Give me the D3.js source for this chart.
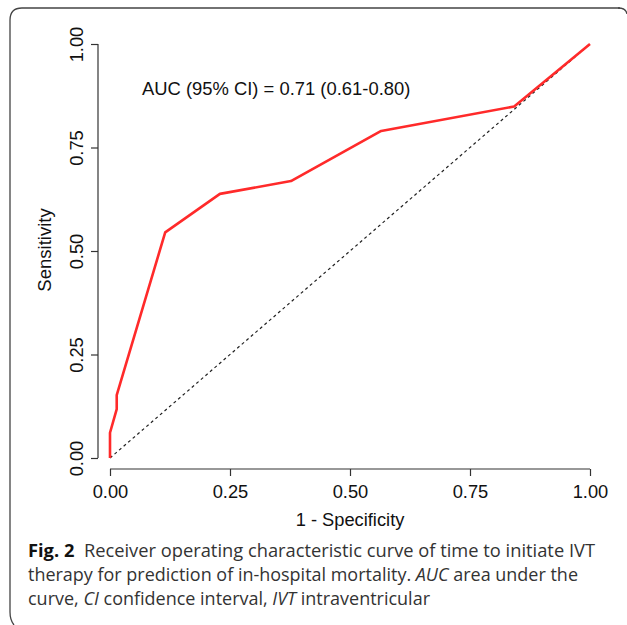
<!DOCTYPE html>
<html><head><meta charset="utf-8">
<script src="https://cdn.jsdelivr.net/npm/d3@7"></script>
<style>body{margin:0;background:#fff}svg{display:block}</style>
</head><body>
<script>
// ROC curve data (1 - specificity, sensitivity)
const fpr = [0, 0, 0.014, 0.014, 0.115, 0.229, 0.377, 0.565, 0.842, 1];
const tpr = [0, 0.061, 0.118, 0.152, 0.545, 0.638, 0.669, 0.790, 0.849, 1];
const refX = [0, 1];
const refY = [0, 1];
const ticks = [0, 0.25, 0.5, 0.75, 1];
const tickLabels = ["0.00", "0.25", "0.50", "0.75", "1.00"];
const aucText = "AUC (95% CI) = 0.71 (0.61-0.80)";
const xLabel = "1 - Specificity";
const yLabel = "Sensitivity";
const captionLines = [
  [{t:"Fig. 2", b:true}, {t:"  Receiver operating characteristic curve of time to initiate IVT"}],
  [{t:"therapy for prediction of in-hospital mortality. "}, {t:"AUC", i:true}, {t:" area under the"}],
  [{t:"curve, "}, {t:"CI", i:true}, {t:" confidence interval, "}, {t:"IVT", i:true}, {t:" intraventricular"}]
];

const W = 627, H = 625;
const svg = d3.select("body").append("svg").attr("width", W).attr("height", H);

// frame
svg.append("path")
  .attr("d", "M620,8 L22,8 Q10,8 10,20 L10,612 Q10,620 14,625")
  .attr("fill", "none").attr("stroke", "#444").attr("stroke-width", 1.3);
svg.append("path")
  .attr("d", "M618,8 Q626,8 627,14")
  .attr("fill", "none").attr("stroke", "#444").attr("stroke-width", 1.3);

const x = d3.scaleLinear().domain([0, 1]).range([110, 590]);
const y = d3.scaleLinear().domain([0, 1]).range([458, 44]);
const font = "'Liberation Sans', Arial, sans-serif";

// x axis
const xAxis = svg.append("g").attr("transform", "translate(0,469)")
  .call(d3.axisBottom(x).tickValues(ticks).tickFormat((d,i)=>tickLabels[i]).tickSize(7).tickPadding(10).tickSizeOuter(0));
xAxis.select(".domain").attr("d", `M${x(0)},0H${x(1)}`);
// y axis
const yAxis = svg.append("g").attr("transform", "translate(98,0)")
  .call(d3.axisLeft(y).tickValues(ticks).tickFormat((d,i)=>tickLabels[i]).tickSize(7).tickSizeOuter(0));
yAxis.select(".domain").attr("d", `M0,${y(0)}V${y(1)}`);
[xAxis, yAxis].forEach(g => {
  g.selectAll(".domain").attr("stroke", "#333").attr("stroke-width", 1.2);
  g.selectAll(".tick line").attr("stroke", "#333").attr("stroke-width", 1.2);
  g.selectAll("text").attr("font-family", font).attr("font-size", 18.3).attr("fill", "#111");
});
xAxis.selectAll(".tick text").attr("dy", null).attr("y", 29);
yAxis.selectAll(".tick text")
  .attr("x", null).attr("dy", null)
  .attr("text-anchor", "middle")
  .attr("transform", "translate(-15,0) rotate(-90)");

// reference diagonal
const line = d3.line().x(d => x(d[0])).y(d => y(d[1]));
svg.append("path").datum(refX.map((v,i)=>[v, refY[i]]))
  .attr("d", line).attr("fill", "none").attr("stroke", "#222")
  .attr("stroke-width", 1.2).attr("stroke-dasharray", "3,3");

// ROC
svg.append("path").datum(fpr.map((v,i)=>[v, tpr[i]]))
  .attr("d", line).attr("fill", "none").attr("stroke", "#ff2a2a")
  .attr("stroke-width", 2.6).attr("stroke-linejoin", "round");

// texts
svg.append("text").attr("x", 142).attr("y", 95).attr("font-family", font)
  .attr("font-size", 18.4).attr("fill", "#111").text(aucText);
svg.append("text").attr("x", 350).attr("y", 526).attr("text-anchor", "middle")
  .attr("font-family", font).attr("font-size", 18.3).attr("fill", "#111").text(xLabel);
svg.append("text").attr("transform", "translate(51,250) rotate(-90)").attr("text-anchor", "middle")
  .attr("font-family", font).attr("font-size", 18.5).attr("fill", "#111").text(yLabel);

// caption
const capBase = [557, 581, 605];
const capLen = [567, 550, 402];
captionLines.forEach((parts, li) => {
  const t = svg.append("text").attr("x", 28).attr("y", capBase[li])
    .attr("font-family", "'Open Sans', 'Noto Sans', sans-serif").attr("font-size", 17.8)
    .attr("fill", "#333").attr("xml:space", "preserve").style("white-space", "pre")
    .attr("textLength", capLen[li]).attr("lengthAdjust", "spacingAndGlyphs");
  parts.forEach(p => {
    t.append("tspan").text(p.t)
      .attr("font-weight", p.b ? "bold" : null)
      .attr("fill", p.b ? "#111" : null)
      .attr("font-style", p.i ? "italic" : null);
  });
});
</script>
</body></html>
